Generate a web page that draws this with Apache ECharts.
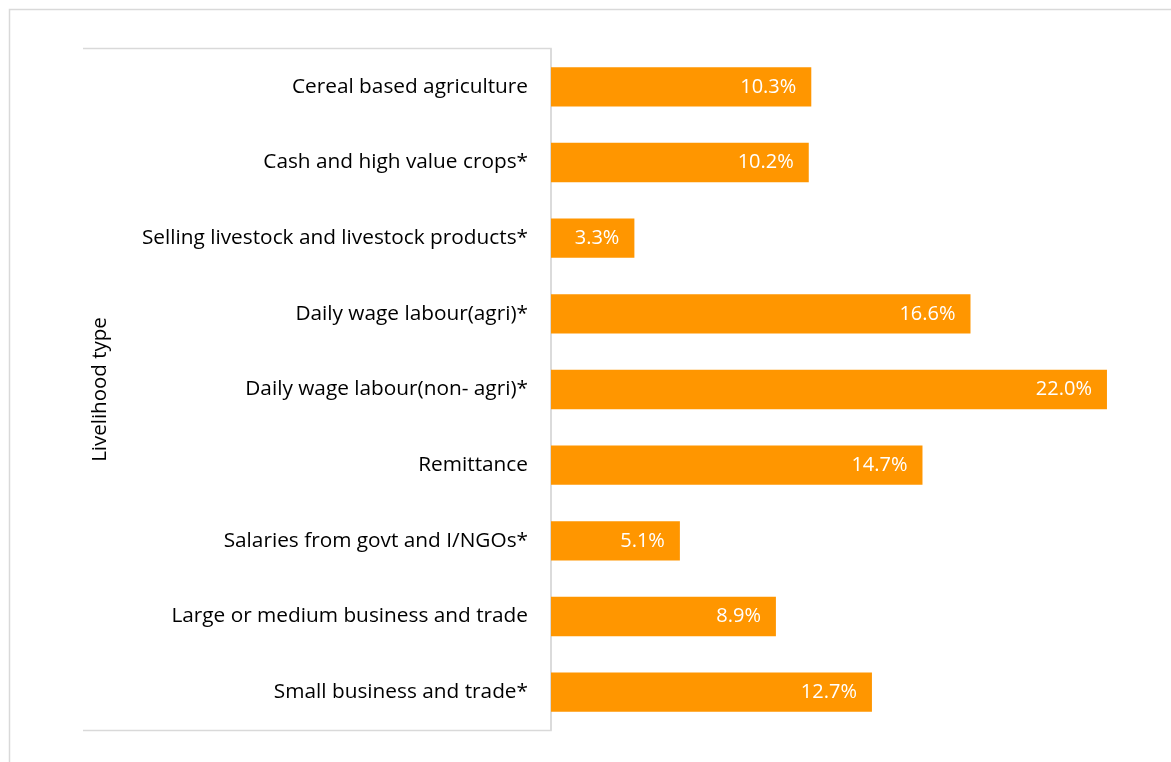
<!DOCTYPE html>
<html>
<head>
<meta charset="utf-8">
<script src="https://cdn.jsdelivr.net/npm/echarts@6/dist/echarts.min.js"></script>
<style>
  html, body { margin: 0; padding: 0; background: #fff; }
  #chart { width: 1171px; height: 762px; }
</style>
</head>
<body>
<div id="chart"></div>
<script>
// Livelihood types, listed top to bottom
const categories = [
  'Cereal based agriculture',
  'Cash and high value crops*',
  'Selling livestock and livestock products*',
  'Daily wage labour(agri)*',
  'Daily wage labour(non- agri)*',
  'Remittance',
  'Salaries from govt and I/NGOs*',
  'Large or medium business and trade',
  'Small business and trade*'
];
// Share of households (%)
const shares = [10.3, 10.2, 3.3, 16.6, 22.0, 14.7, 5.1, 8.9, 12.7];
const axisTitle = 'Livelihood type';

const FONT = '"Open Sans", "Noto Sans", sans-serif';
const GRID = { left: 551, top: 49, width: 606.5, height: 681 };
const frameColor = '#d9d9d9';

const chart = echarts.init(document.getElementById('chart'), null, { renderer: 'canvas' });
chart.setOption({
  backgroundColor: '#ffffff',
  animation: false,
  grid: { left: GRID.left, top: GRID.top, width: GRID.width, height: GRID.height, containLabel: false },
  xAxis: {
    type: 'value', min: 0, max: 24, show: false
  },
  yAxis: {
    type: 'category',
    data: categories,
    inverse: true,
    axisLine: { show: true, lineStyle: { color: frameColor, width: 1.5 } },
    axisTick: { show: false },
    axisLabel: { color: '#000', fontFamily: FONT, fontSize: 20.8, margin: 23, padding: [3, 0, 0, 0] },
    name: axisTitle,
    nameLocation: 'middle',
    nameGap: 440,
    nameRotate: 90,
    nameTextStyle: { color: '#000', fontFamily: FONT, fontSize: 20.5 }
  },
  series: [{
    type: 'bar',
    data: shares,
    barWidth: '52%',
    itemStyle: { color: '#FF9600' },
    label: {
      show: true,
      position: 'insideRight',
      distance: 15,
      color: '#fff',
      fontFamily: FONT,
      fontSize: 20,
      formatter: p => p.value.toFixed(1) + '%'
    }
  }],
  graphic: [
    {
      type: 'rect', silent: true,
      shape: { x: 9.5, y: 9.5, width: 1300, height: 900 },
      style: { fill: 'none', stroke: frameColor, lineWidth: 1.5 }
    },
    {
      type: 'polyline', silent: true,
      shape: { points: [[83, 48.5], [551, 48.5], [551, 730.5], [83, 730.5]] },
      style: { fill: 'none', stroke: frameColor, lineWidth: 1.5 }
    }
  ]
});
</script>
</body>
</html>
